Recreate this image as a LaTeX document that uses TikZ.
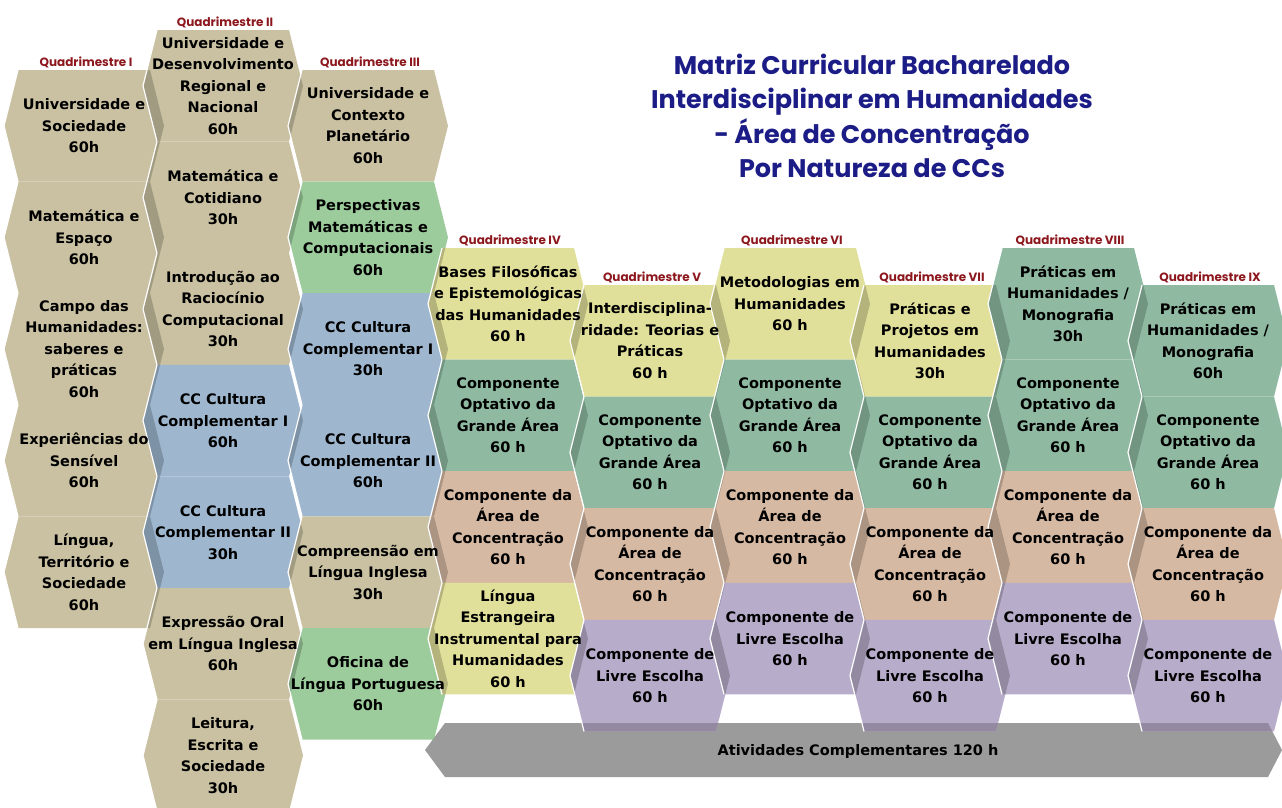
\documentclass[tikz,border=0pt]{standalone}
\usepackage{fontspec}
\setmainfont{DejaVu Sans}
\newfontfamily\titlefont{Poppins}

\definecolor{tanC}{RGB}{201,193,162}
\definecolor{blueC}{RGB}{158,183,207}
\definecolor{greenC}{RGB}{156,204,156}
\definecolor{yellowC}{RGB}{225,224,154}
\definecolor{tealC}{RGB}{143,186,161}
\definecolor{salmonC}{RGB}{214,185,163}
\definecolor{purpleC}{RGB}{184,172,203}
\definecolor{barC}{RGB}{155,155,155}
\definecolor{quadC}{RGB}{140,24,30}
\definecolor{titleC}{RGB}{28,28,135}

\newcommand{\cellfont}{\fontsize{14.5}{21.5}\selectfont\bfseries}
% flat topped hexagon around (cx,cy)
\newcommand{\hexat}[2]{(#1-66,#2-55.8) -- (#1+66,#2-55.8) -- (#1+80,#2) -- (#1+66,#2+55.8) -- (#1-66,#2+55.8) -- (#1-80,#2) -- cycle}
\newcommand{\barpath}{(425,750) -- (445,723) -- (1268,723) -- (1282,750) -- (1268,777) -- (445,777) -- cycle}

\def\colA{tanC/{Universidade e\\Sociedade\\60h},
  tanC/{Matemática e\\Espaço\\60h},
  tanC/{Campo das\\Humanidades:\\saberes e\\práticas\\60h},
  tanC/{Experiências do\\Sensível\\60h},
  tanC/{Língua,\\Território e\\Sociedade\\60h}}
\def\colB{tanC/{Universidade e\\Desenvolvimento\\Regional e\\Nacional\\60h},
  tanC/{Matemática e\\Cotidiano\\30h},
  tanC/{Introdução ao\\Raciocínio\\Computacional\\30h},
  blueC/{CC Cultura\\Complementar I\\60h},
  blueC/{CC Cultura\\Complementar II\\30h},
  tanC/{Expressão Oral\\em Língua Inglesa\\60h},
  tanC/{Leitura,\\Escrita e\\Sociedade\\30h}}
\def\colC{tanC/{Universidade e\\Contexto\\Planetário\\60h},
  greenC/{Perspectivas\\Matemáticas e\\Computacionais\\60h},
  blueC/{CC Cultura\\Complementar I\\30h},
  blueC/{CC Cultura\\Complementar II\\60h},
  tanC/{Compreensão em\\Língua Inglesa\\30h},
  greenC/{Oficina de\\Língua Portuguesa\\60h}}
\def\colD{yellowC/{Bases Filosóficas\\e Epistemológicas\\das Humanidades\\60 h},
  tealC/{Componente\\Optativo da\\Grande Área\\60 h},
  salmonC/{Componente da\\Área de\\Concentração\\60 h},
  yellowC/{Língua\\Estrangeira\\Instrumental para\\Humanidades\\60 h}}
\def\colE{yellowC/{Interdisciplina-\\ridade: Teorias e\\Práticas\\60 h},
  tealC/{Componente\\Optativo da\\Grande Área\\60 h},
  salmonC/{Componente da\\Área de\\Concentração\\60 h},
  purpleC/{Componente de\\Livre Escolha\\60 h}}
\def\colF{yellowC/{Metodologias em\\Humanidades\\60 h},
  tealC/{Componente\\Optativo da\\Grande Área\\60 h},
  salmonC/{Componente da\\Área de\\Concentração\\60 h},
  purpleC/{Componente de\\Livre Escolha\\60 h}}
\def\colG{yellowC/{Práticas e\\Projetos em\\Humanidades\\30h},
  tealC/{Componente\\Optativo da\\Grande Área\\60 h},
  salmonC/{Componente da\\Área de\\Concentração\\60 h},
  purpleC/{Componente de\\Livre Escolha\\60 h}}
\def\colH{tealC/{Práticas em\\Humanidades /\\Monografia\\30h},
  tealC/{Componente\\Optativo da\\Grande Área\\60 h},
  salmonC/{Componente da\\Área de\\Concentração\\60 h},
  purpleC/{Componente de\\Livre Escolha\\60 h}}
\def\colI{tealC/{Práticas em\\Humanidades /\\Monografia\\60h},
  tealC/{Componente\\Optativo da\\Grande Área\\60 h},
  salmonC/{Componente da\\Área de\\Concentração\\60 h},
  purpleC/{Componente de\\Livre Escolha\\60 h}}
\def\columns{84/70/5/A/I, 223/30/7/B/II, 368/70/6/C/III,
  508/248/4/D/IV, 650/285/4/E/V, 790/248/4/F/VI,
  930/285/4/G/VII, 1068/248/4/H/VIII, 1208/285/4/I/IX}

\begin{document}
\begin{tikzpicture}[x=1pt,y=-1pt,
    cell/.style={font=\cellfont,align=center,text=black,inner sep=0pt},
    quad/.style={font=\titlefont\bfseries\fontsize{12}{14}\selectfont,text=quadC,anchor=south,inner sep=1pt},
    headline/.style={font=\titlefont\bfseries\fontsize{25.5}{34.5}\selectfont,text=titleC,align=center}]
  \useasboundingbox (0,0) rectangle (1282,807);
  % \draw[help lines,step=50] (0,0) grid (1282,807);

  \fill[barC] \barpath;

  \foreach \cx/\ytop/\nh/\cname/\qn [remember=\cx as \pcx (initially -900),
      remember=\ytop as \ptop (initially 0), remember=\nh as \pn (initially 1)] in \columns {
    \expandafter\let\expandafter\cells\csname col\cname\endcsname
    \foreach \col/\txt [count=\idx from 0] in \cells {
      \pgfmathsetmacro\cy{\ytop+55.8+\idx*111.6}
      \fill[\col] \hexat{\cx}{\cy};
      \begin{scope}
        \clip \hexat{\cx}{\cy};
        \foreach \mm in {1,...,\pn}
          \fill[\col!80!black] \hexat{\pcx}{\ptop-55.8+\mm*111.6};
        \fill[\col!80!black] \barpath;
      \end{scope}
      \draw[white,line width=1.2] (\cx-66,\cy-55.8) -- (\cx-80,\cy) -- (\cx-66,\cy+55.8);
    }
  }

  \foreach \cx/\ytop/\nh/\cname/\qn in \columns {
    \node[quad] (quad-\qn) at (\cx+2,\ytop-1) {Quadrimestre \qn};
    \expandafter\let\expandafter\cells\csname col\cname\endcsname
    \foreach \col/\txt [count=\idx from 0] in \cells
      \node[cell] (cc-\qn-\idx) at (\cx,\ytop+55.8+\idx*111.6) {\txt};
  }

  \node[cell] (ativ) at (858,751) {Atividades Complementares 120 h};
  \node[headline] (titulo) at (872,116) {Matriz Curricular Bacharelado\\Interdisciplinar em Humanidades\\- Área de Concentração\\Por Natureza de CCs};
\end{tikzpicture}
\end{document}
